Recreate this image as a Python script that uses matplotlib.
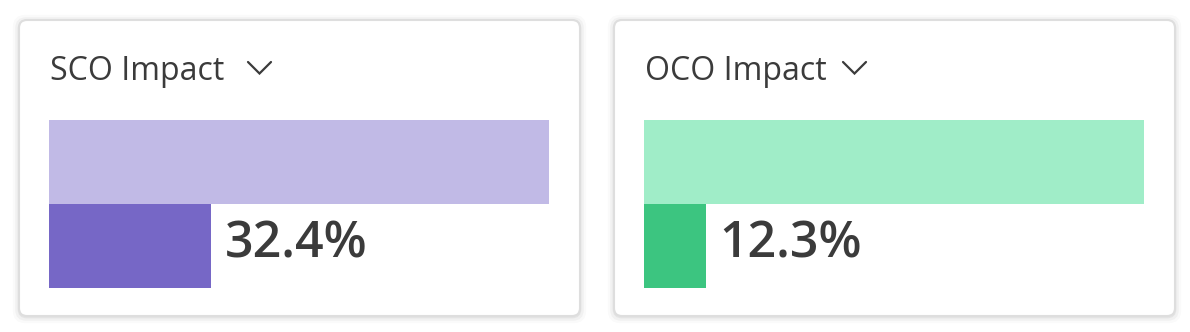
import matplotlib.pyplot as plt
from matplotlib.patches import FancyBboxPatch
from matplotlib.lines import Line2D

# Data
titles = ['SCO Impact', 'OCO Impact']
values = [32.4, 12.3]
track_colors = ['#c1bae6', '#a0edc8']
value_colors = ['#7667c6', '#3cc580']

W, H = 1190, 332
TEXT = '#3b3b3b'
plt.rcParams['font.family'] = ['Open Sans', 'DejaVu Sans']

fig = plt.figure(figsize=(W / 100, H / 100), dpi=100)
bg = fig.add_axes([0, 0, 1, 1])
bg.set_xlim(0, W)
bg.set_ylim(H, 0)
bg.axis('off')

card_x = [19, 614]
card_w, card_top, card_h = 561, 20, 296

for i, (title, val) in enumerate(zip(titles, values)):
    cx = card_x[i]
    # soft shadow
    for k, a in enumerate([0.05, 0.035, 0.02]):
        sh = FancyBboxPatch((cx - k, card_top + 1 - k), card_w + 2 * k, card_h + 2 * k,
                            boxstyle='round,pad=0,rounding_size=8',
                            facecolor='none', edgecolor='black', linewidth=2 + 2 * k,
                            alpha=a, zorder=1)
        bg.add_patch(sh)
    card = FancyBboxPatch((cx, card_top), card_w, card_h,
                          boxstyle='round,pad=0,rounding_size=8',
                          facecolor='white', edgecolor='#dedede', linewidth=1.5, zorder=2)
    bg.add_patch(card)

    # title + chevron
    bg.text(cx + 31, 80, title, fontsize=23, color=TEXT, ha='left', va='baseline', zorder=3)
    chx = cx + 229
    bg.add_line(Line2D([chx, chx + 11.5, chx + 23], [62, 73.5, 62], color=TEXT,
                       linewidth=1.6, solid_capstyle='round', solid_joinstyle='miter', zorder=3))

    # bar area
    bx, btop, bw, bh = cx + 30, 120, 500, 168
    ax = fig.add_axes([bx / W, (H - btop - bh) / H, bw / W, bh / H])
    ax.barh([1], [100], height=1, color=track_colors[i], linewidth=0)
    ax.barh([0], [val], height=1, color=value_colors[i], linewidth=0)
    ax.set_xlim(0, 100)
    ax.set_ylim(-0.5, 1.5)
    ax.axis('off')
    ax.annotate(f'{val}%', xy=(val, 0), xytext=(10, 1), textcoords='offset points',
                ha='left', va='center', fontsize=36, fontweight='semibold', color=TEXT)

fig.savefig('out.png', dpi=100)
